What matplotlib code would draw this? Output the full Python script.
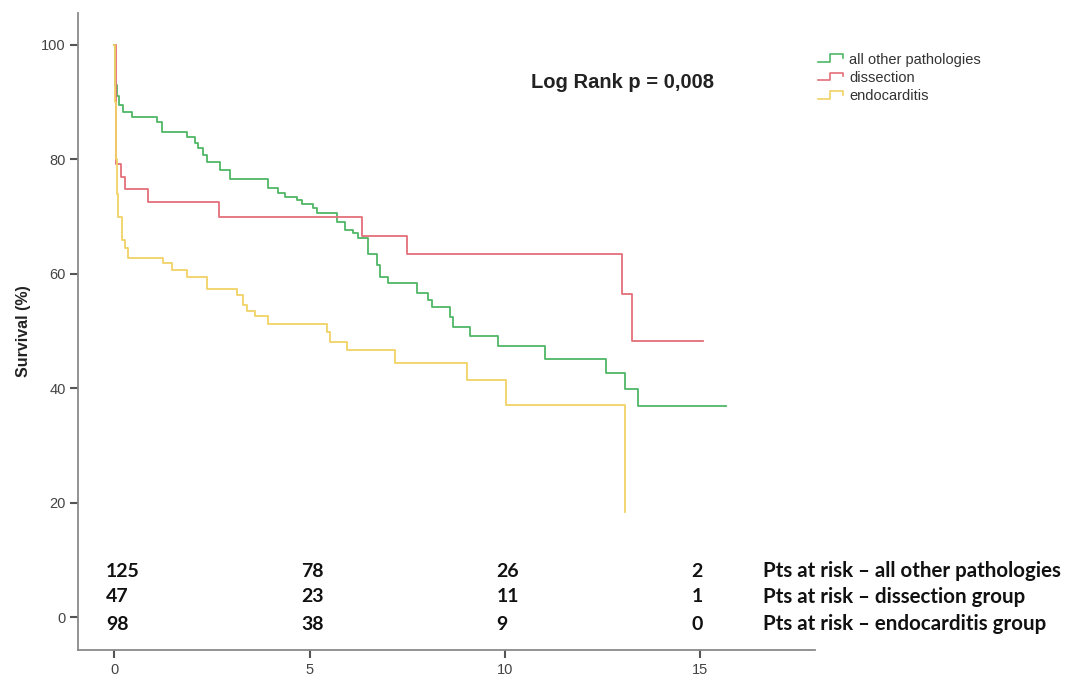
import matplotlib
matplotlib.use("Agg")
import matplotlib.pyplot as plt
from matplotlib.lines import Line2D
from matplotlib.legend_handler import HandlerBase

# Kaplan-Meier estimates (years, survival %)
t_other = [0, 0.02, 0.06, 0.12, 0.22, 0.45, 1.09, 1.22, 1.85, 2.07, 2.15, 2.27, 2.37,
           2.70, 2.96, 3.93, 4.19, 4.37, 4.68, 4.81, 5.09, 5.19, 5.70, 5.91, 6.11,
           6.24, 6.49, 6.72, 6.80, 7.01, 7.75, 8.03, 8.14, 8.60, 8.67, 9.11, 9.83,
           11.03, 12.59, 13.08, 13.41, 15.67]
s_other = [100, 93.0, 91.0, 89.5, 88.3, 87.4, 86.5, 84.8, 83.9, 82.9, 82.0, 80.8, 79.6,
           78.1, 76.6, 75.0, 74.1, 73.4, 72.9, 72.2, 71.5, 70.6, 69.1, 67.7, 67.1,
           66.3, 63.5, 61.5, 59.4, 58.3, 56.6, 55.4, 54.1, 52.4, 50.7, 49.1, 47.3,
           45.1, 42.6, 39.8, 36.9, 36.9]

t_diss = [0, 0.03, 0.18, 0.27, 0.87, 2.68, 6.34, 7.50, 13.0, 13.26, 15.08]
s_diss = [100, 79.2, 76.9, 74.8, 72.6, 69.9, 66.6, 63.4, 56.4, 48.2, 48.2]

t_endo = [0, 0.02, 0.04, 0.06, 0.10, 0.20, 0.27, 0.35, 1.25, 1.48, 1.86, 2.37, 3.14,
          3.30, 3.40, 3.60, 3.94, 5.45, 5.52, 5.96, 7.19, 9.03, 10.03, 13.08]
s_endo = [100, 90.0, 80.0, 74.0, 70.0, 65.9, 64.5, 62.8, 61.9, 60.7, 59.4, 57.4, 56.3,
          54.5, 53.5, 52.6, 51.3, 49.8, 48.1, 46.7, 44.4, 41.4, 37.1, 18.3]

groups = ["all other pathologies", "dissection", "endocarditis"]
colors = ["#4fb866", "#e4707a", "#f0d264"]

# numbers at risk
risk_times = [0, 5, 10, 15]
risk_other = [125, 78, 26, 2]
risk_diss = [47, 23, 11, 1]
risk_endo = [98, 38, 9, 0]
risk_labels = ["Pts at risk \u2013 all other pathologies",
               "Pts at risk \u2013 dissection group",
               "Pts at risk \u2013 endocarditis group"]


class StepHandler(HandlerBase):
    # small step glyph for legend entries
    def create_artists(self, legend, orig_handle, xdescent, ydescent, width, height,
                       fontsize, trans):
        x0, y0 = -xdescent, -ydescent
        xs = [x0, x0 + 0.45 * width, x0 + 0.45 * width, x0 + 0.95 * width, x0 + 0.95 * width]
        ys = [y0 + 0.15 * height, y0 + 0.15 * height, y0 + 0.9 * height,
              y0 + 0.9 * height, y0 + 0.55 * height]
        ln = Line2D(xs, ys, color=orig_handle.get_color(), lw=1.2, transform=trans)
        return [ln]


plt.rcParams["font.family"] = ["Liberation Sans", "DejaVu Sans"]

fig = plt.figure(figsize=(10.78, 6.75), dpi=100)
ax = fig.add_axes([0.0724, 0.037, 0.6836, 0.944])

handles = []
for t, s, c, g in zip([t_other, t_diss, t_endo], [s_other, s_diss, s_endo], colors, groups):
    h, = ax.step(t, s, where="post", color=c, lw=1.3, label=g)
    handles.append(h)

ax.set_xlim(-0.93, 17.94)
ax.set_ylim(-5.77, 105.6)
ax.set_xticks([0, 5, 10, 15])
ax.set_yticks([0, 20, 40, 60, 80, 100])
for side in ["top", "right"]:
    ax.spines[side].set_visible(False)
for side in ["left", "bottom"]:
    ax.spines[side].set_color("#8a8a8a")
    ax.spines[side].set_linewidth(1.3)
ax.tick_params(axis="both", colors="#555555", labelcolor="#444444", labelsize=10.5,
               length=6, width=1.5, pad=3)
ax.set_ylabel("Survival (%)", fontsize=11.5, fontweight="bold", color="#222222", labelpad=7)

fig.text(0.577, 0.878, "Log Rank p = 0,008", ha="center", va="center",
         fontsize=14.5, fontweight="bold", color="#222222")

leg = fig.legend(handles=handles, labels=groups, loc="upper left",
                 bbox_to_anchor=(0.752, 0.933), frameon=False, fontsize=10.5,
                 handler_map={Line2D: StepHandler()}, handlelength=1.8,
                 handletextpad=0.35, labelspacing=0.3, borderpad=0)
for txt in leg.get_texts():
    txt.set_color("#333333")

# numbers-at-risk table
row_y = [8.0, 3.5, -1.3]
for vals, y, lab in zip([risk_other, risk_diss, risk_endo], row_y, risk_labels):
    for t, v in zip(risk_times, vals):
        ax.text(t - 0.22, y, str(v), ha="left", va="center", fontsize=14,
                fontweight="bold", family=["Lato", "DejaVu Sans"], color="#111111")
    ax.text(16.6, y, lab, ha="left", va="center", fontsize=14.8, fontweight="bold",
            family=["Lato", "DejaVu Sans"], color="#111111", clip_on=False)

fig.savefig("out.png", dpi=100)
